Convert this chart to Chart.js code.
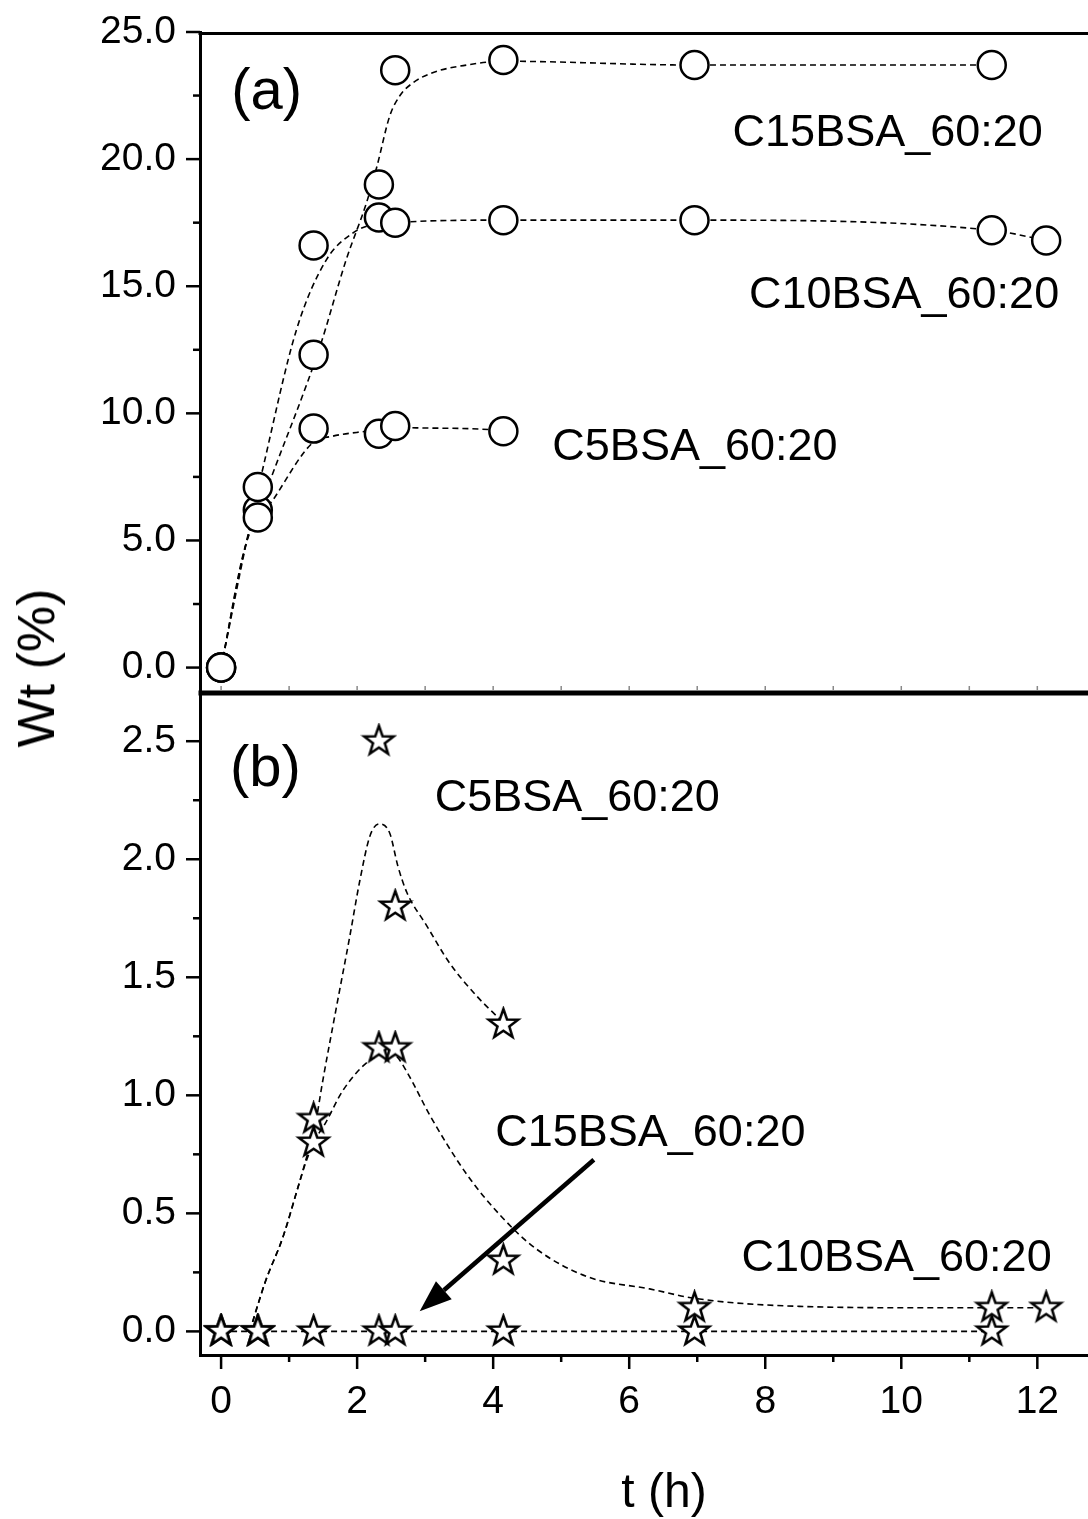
<!DOCTYPE html>
<html>
<head>
<meta charset="utf-8">
<script src="https://cdn.jsdelivr.net/npm/chart.js@4.4.1/dist/chart.umd.min.js"></script>
<style>
body { margin: 0; background: #fff; }
#wrap { position: relative; width: 1088px; height: 1519px; overflow: hidden; font-family: 'Liberation Sans', Arial, sans-serif; }
canvas { position: absolute; left: 0; }
#topChart { top: 0; }
#botChart { top: 693px; }
.title { position: absolute; white-space: nowrap; line-height: 1; color: #000; }
</style>
</head>
<body>
<div id="wrap">
<canvas id="topChart" width="1088" height="693"></canvas>
<canvas id="botChart" width="1088" height="826"></canvas>
<div class="title" style="font-size:52px; left:35.5px; top:668px; transform:translate(-50%,-50%) rotate(-90deg);">Wt (%)</div>
<div class="title" style="font-size:48px; left:664px; top:1467px; transform:translateX(-50%);">t (h)</div>
</div>
<script>
// sampling times (h)
const tHours = [0, 0.54, 1.36, 2.32, 2.56, 4.15, 6.96, 11.33, 12.13];

// panel (a): Wt (%)
const wtC15 = [0, 5.9, 12.3, 19.0, 23.5, 23.9, 23.7, 23.7, null];
const wtC10 = [0, 7.1, 16.6, 17.7, 17.5, 17.6, 17.6, 17.2, 16.8];
const wtC5  = [0, 6.2, 9.4, 9.2, 9.5, 9.3, null, null, null];

// panel (b): Wt (%)
const rateC5  = [0, 0, 0.9, 2.5, 1.8, 1.3, null, null, null];
const rateC10 = [0, 0, 0.8, 1.2, 1.2, 0.3, 0.1, 0.1, 0.1];
const rateC15 = [0, 0, 0, 0, 0, 0, 0, 0, null];

// dashed fit curves
const fitA15x = [0, 0.37, 0.74, 1.45, 1.84, 2.14, 2.29, 2.48, 2.63, 2.82, 3.11, 3.61, 4.15, 6.96, 11.33];
const fitA15y = [0, 4.9, 7.5, 12.6, 16.05, 18.3, 19.7, 21.7, 22.5, 23.0, 23.4, 23.7, 23.85, 23.7, 23.7];
const fitA10x = [0, 0.37, 0.62, 1.11, 1.55, 1.94, 2.14, 2.56, 4.15, 6.96, 11.33, 12.13];
const fitA10y = [0, 4.9, 7.9, 13.3, 16.05, 17.1, 17.36, 17.5, 17.6, 17.6, 17.2, 16.8];
const fitA5x  = [0, 0.37, 0.79, 1.35, 1.64, 2.14, 2.56, 2.87, 3.95, 4.15];
const fitA5y  = [0, 4.9, 6.7, 8.85, 9.1, 9.3, 9.45, 9.43, 9.36, 9.3];

const fitB5x  = [0.42, 0.65, 0.91, 1.12, 1.25, 1.38, 1.5, 1.70, 1.89, 2.04, 2.19, 2.33, 2.48, 2.60, 2.73, 3.02, 3.36, 3.76, 4.0, 4.15];
const fitB5y  = [0, 0.21, 0.40, 0.60, 0.73, 0.87, 1.07, 1.38, 1.67, 1.91, 2.10, 2.15, 2.11, 1.97, 1.86, 1.72, 1.56, 1.42, 1.35, 1.31];
const fitB10x = [0.42, 0.65, 0.91, 1.12, 1.25, 1.38, 1.53, 1.79, 2.15, 2.46, 2.58, 2.73, 3.08, 3.6, 4.11, 4.63, 5.4, 6.3, 6.96, 8.5, 10.47, 11.33, 12.13];
const fitB10y = [0, 0.21, 0.40, 0.60, 0.72, 0.81, 0.88, 1.02, 1.14, 1.18, 1.165, 1.10, 0.91, 0.67, 0.49, 0.35, 0.23, 0.18, 0.14, 0.106, 0.10, 0.10, 0.10];
const fitB15x = [0, 11.33];
const fitB15y = [0, 0];

// ticks
const xMajor = [0, 2, 4, 6, 8, 10, 12];
const xMinor = [1, 3, 5, 7, 9, 11];
const yTopMajor = [0, 5, 10, 15, 20, 25];
const yTopMinor = [2.5, 7.5, 12.5, 17.5, 22.5];
const yBotMajor = [0, 0.5, 1.0, 1.5, 2.0, 2.5];
const yBotMinor = [0.25, 0.75, 1.25, 1.75, 2.25];

const FONT = "'Liberation Sans', Arial, sans-serif";

function pts(xs, ys) {
    const out = [];
    xs.forEach((x, i) => {
        if (ys[i] !== null) out.push({x: x, y: ys[i]});
    });
    return out;
}

function makeStar(R) {
    const c = document.createElement('canvas');
    const s = Math.ceil(R * 2 + 6);
    c.width = s;
    c.height = s;
    const g = c.getContext('2d');
    const r = R * 0.4;
    g.beginPath();
    for (let i = 0; i < 10; i++) {
        const a = -Math.PI / 2 + i * Math.PI / 5;
        const rr = i % 2 === 0 ? R : r;
        const px = s / 2 + rr * Math.cos(a);
        const py = s / 2 + rr * Math.sin(a);
        if (i === 0) g.moveTo(px, py); else g.lineTo(px, py);
    }
    g.closePath();
    g.fillStyle = '#fff';
    g.fill();
    g.lineWidth = 2.5;
    g.strokeStyle = '#000';
    g.lineJoin = 'miter';
    g.stroke();
    return c;
}
const starImg = makeStar(15.5);

function markerSet(data, style) {
    return {
        data: data,
        showLine: false,
        pointStyle: style,
        pointRadius: style === 'circle' ? 14 : 16,
        borderWidth: 2.5,
        borderColor: '#000',
        backgroundColor: '#fff',
        order: 0
    };
}

function fitSet(data) {
    return {
        data: data,
        showLine: true,
        pointRadius: 0,
        borderColor: '#000',
        borderWidth: 1.6,
        borderDash: [6, 4],
        cubicInterpolationMode: 'monotone',
        fill: false,
        order: 1
    };
}

// keep the plot area where it is: no extra room for half labels
function fixY(scale) {
    scale.width = 200;
    scale.paddingTop = 0;
    scale.paddingBottom = 0;
}
function fixX(scale) {
    scale.height = 164;
    scale.paddingLeft = 0;
    scale.paddingRight = 0;
}

// axis tick marks, major and minor
const tickMarks = {
    id: 'tickMarks',
    afterDraw(chart, args, opts) {
        const ctx = chart.ctx;
        ctx.save();
        ctx.strokeStyle = '#000';
        (opts.axes || []).forEach(ax => {
            const scale = chart.scales[ax.id];
            const draw = (vals, len) => {
                ctx.lineWidth = 2.5;
                vals.forEach(v => {
                    const p = scale.getPixelForValue(v);
                    ctx.beginPath();
                    if (scale.isHorizontal()) {
                        ctx.moveTo(p, chart.chartArea.bottom);
                        ctx.lineTo(p, chart.chartArea.bottom + len);
                    } else {
                        ctx.moveTo(chart.chartArea.left, p);
                        ctx.lineTo(chart.chartArea.left - len, p);
                    }
                    ctx.stroke();
                });
            };
            draw(ax.major, 14);
            draw(ax.minor, 7);
        });
        ctx.restore();
    }
};

// frame lines of the stacked panels
const frame = {
    id: 'frame',
    afterDraw(chart, args, opts) {
        const {ctx, chartArea: a} = chart;
        ctx.save();
        ctx.strokeStyle = '#000';
        ctx.lineWidth = 3;
        ctx.beginPath();
        const yTop = opts.bottom ? a.top + 1.5 : a.top;
        ctx.moveTo(a.left - 1.5, yTop);
        ctx.lineTo(a.right, yTop);
        if (opts.bottom) {
            ctx.moveTo(a.left - 1.5, a.bottom - 1);
            ctx.lineTo(a.right, a.bottom - 1);
        }
        ctx.stroke();
        if (opts.innerTicks) {
            ctx.strokeStyle = '#888';
            ctx.lineWidth = 1.5;
            const sx = chart.scales.x;
            opts.innerTicks.forEach(v => {
                const p = sx.getPixelForValue(v);
                ctx.beginPath();
                ctx.moveTo(p, a.bottom - 3);
                ctx.lineTo(p, a.bottom - 7);
                ctx.stroke();
            });
        }
        ctx.restore();
    }
};

// text labels and arrow, placed in data coordinates
const notes = {
    id: 'notes',
    afterDatasetsDraw(chart, args, opts) {
        const ctx = chart.ctx;
        const sx = chart.scales.x;
        const sy = chart.scales.y;
        ctx.save();
        ctx.fillStyle = '#000';
        ctx.textAlign = 'left';
        ctx.textBaseline = 'alphabetic';
        (opts.items || []).forEach(it => {
            ctx.font = it.size + 'px ' + FONT;
            ctx.fillText(it.text, sx.getPixelForValue(it.x), sy.getPixelForValue(it.y));
        });
        if (opts.arrow) {
            const x0 = sx.getPixelForValue(opts.arrow.from[0]);
            const y0 = sy.getPixelForValue(opts.arrow.from[1]);
            const x1 = sx.getPixelForValue(opts.arrow.to[0]);
            const y1 = sy.getPixelForValue(opts.arrow.to[1]);
            const ang = Math.atan2(y1 - y0, x1 - x0);
            const hl = 32, hw = 12;
            const bx = x1 - hl * Math.cos(ang);
            const by = y1 - hl * Math.sin(ang);
            ctx.strokeStyle = '#000';
            ctx.lineWidth = 4.5;
            ctx.beginPath();
            ctx.moveTo(x0, y0);
            ctx.lineTo(bx, by);
            ctx.stroke();
            ctx.beginPath();
            ctx.moveTo(x1, y1);
            ctx.lineTo(bx + hw * Math.sin(ang), by - hw * Math.cos(ang));
            ctx.lineTo(bx - hw * Math.sin(ang), by + hw * Math.cos(ang));
            ctx.closePath();
            ctx.fill();
        }
        ctx.restore();
    }
};

const xRange = {min: -0.31, max: 12.745};

new Chart(document.getElementById('topChart'), {
    type: 'scatter',
    data: {
        datasets: [
            markerSet(pts(tHours, wtC15), 'circle'),
            markerSet(pts(tHours, wtC10), 'circle'),
            markerSet(pts(tHours, wtC5), 'circle'),
            fitSet(pts(fitA15x, fitA15y)),
            fitSet(pts(fitA10x, fitA10y)),
            fitSet(pts(fitA5x, fitA5y))
        ]
    },
    plugins: [tickMarks, frame, notes],
    options: {
        responsive: false,
        animation: false,
        layout: {autoPadding: false, padding: {top: 32, bottom: 0, left: 0, right: 0}},
        plugins: {
            legend: {display: false},
            tooltip: {enabled: false},
            tickMarks: {axes: [{id: 'y', major: yTopMajor, minor: yTopMinor}]},
            frame: {bottom: true, innerTicks: xMajor.concat(xMinor)},
            notes: {
                items: [
                    {text: '(a)', x: 0.15, y: 21.98, size: 58},
                    {text: 'C15BSA_60:20', x: 7.52, y: 20.5, size: 45},
                    {text: 'C10BSA_60:20', x: 7.76, y: 14.16, size: 45},
                    {text: 'C5BSA_60:20', x: 4.87, y: 8.18, size: 45}
                ]
            }
        },
        scales: {
            x: {type: 'linear', min: xRange.min, max: xRange.max, display: false},
            y: {
                type: 'linear',
                min: -1,
                max: 25,
                afterFit: fixY,
                afterBuildTicks(scale) { scale.ticks = yTopMajor.map(v => ({value: v})); },
                border: {display: true, width: 3, color: '#000'},
                grid: {drawOnChartArea: false, drawTicks: false},
                ticks: {
                    padding: 24,
                    color: '#000',
                    font: {family: FONT, size: 39},
                    callback: v => v.toFixed(1)
                }
            }
        }
    }
});

new Chart(document.getElementById('botChart'), {
    type: 'scatter',
    data: {
        datasets: [
            markerSet(pts(tHours, rateC5), starImg),
            markerSet(pts(tHours, rateC10), starImg),
            markerSet(pts(tHours, rateC15), starImg),
            fitSet(pts(fitB5x, fitB5y)),
            fitSet(pts(fitB10x, fitB10y)),
            fitSet(pts(fitB15x, fitB15y))
        ]
    },
    plugins: [tickMarks, frame, notes],
    options: {
        responsive: false,
        animation: false,
        layout: {autoPadding: false, padding: {top: 1, bottom: 0, left: 0, right: 0}},
        plugins: {
            legend: {display: false},
            tooltip: {enabled: false},
            tickMarks: {axes: [
                {id: 'y', major: yBotMajor, minor: yBotMinor},
                {id: 'x', major: xMajor, minor: xMinor}
            ]},
            frame: {bottom: false},
            notes: {
                items: [
                    {text: '(b)', x: 0.13, y: 2.31, size: 58},
                    {text: 'C5BSA_60:20', x: 3.14, y: 2.203, size: 45},
                    {text: 'C15BSA_60:20', x: 4.03, y: 0.784, size: 45},
                    {text: 'C10BSA_60:20', x: 7.65, y: 0.254, size: 45}
                ],
                arrow: {from: [5.48, 0.727], to: [2.92, 0.085]}
            }
        },
        scales: {
            x: {
                type: 'linear',
                min: xRange.min,
                max: xRange.max,
                afterFit: fixX,
                afterBuildTicks(scale) { scale.ticks = xMajor.map(v => ({value: v})); },
                border: {display: true, width: 3, color: '#000'},
                grid: {drawOnChartArea: false, drawTicks: false},
                ticks: {
                    padding: 24,
                    color: '#000',
                    autoSkip: false,
                    maxRotation: 0,
                    font: {family: FONT, size: 39},
                    callback: v => String(v)
                }
            },
            y: {
                type: 'linear',
                min: -0.1,
                max: 2.7,
                afterFit: fixY,
                afterBuildTicks(scale) { scale.ticks = yBotMajor.map(v => ({value: v})); },
                border: {display: true, width: 3, color: '#000'},
                grid: {drawOnChartArea: false, drawTicks: false},
                ticks: {
                    padding: 24,
                    color: '#000',
                    font: {family: FONT, size: 39},
                    callback: v => v.toFixed(1)
                }
            }
        }
    }
});
</script>
</body>
</html>
